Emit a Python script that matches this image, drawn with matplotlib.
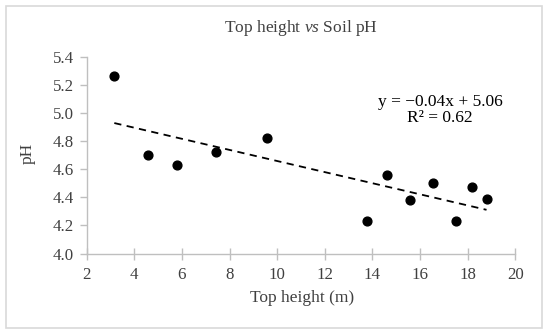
import numpy as np
import matplotlib
matplotlib.use("Agg")
import matplotlib.pyplot as plt
from matplotlib.patches import Rectangle

plt.rcParams['font.family'] = ['Liberation Serif', 'DejaVu Serif']
plt.rcParams['mathtext.fontset'] = 'custom'
plt.rcParams['mathtext.rm'] = 'Liberation Serif'
plt.rcParams['mathtext.it'] = 'Liberation Serif:italic'

# data
top_height = [3.16, 4.58, 5.79, 7.44, 9.58, 13.78, 14.63, 15.56, 16.55, 17.49, 18.17, 18.79]
soil_ph = [5.26, 4.70, 4.63, 4.72, 4.82, 4.23, 4.56, 4.38, 4.50, 4.23, 4.47, 4.39]
x_ticks = [2, 4, 6, 8, 10, 12, 14, 16, 18, 20]
y_ticks = [4.0, 4.2, 4.4, 4.6, 4.8, 5.0, 5.2, 5.4]

x = np.array(top_height)
y = np.array(soil_ph)

# linear trend line
slope, intercept = np.polyfit(x, y, 1)
xs = np.array([x.min(), x.max()])

fig = plt.figure(figsize=(5.5, 3.34), dpi=100)
ax = fig.add_axes([0.1576, 0.241, 0.7794, 0.589])

# light grey frame round the whole chart
fig.patches.append(Rectangle((5.5 / 550, 1 - 328 / 334), 536 / 550, 322 / 334,
                             transform=fig.transFigure, fill=False,
                             edgecolor='#d9d9d9', linewidth=1.2))

ax.scatter(x, y, s=40, color='black', zorder=3)
ax.plot(xs, slope * xs + intercept, color='black', linestyle=(0, (4, 3)),
        linewidth=1.3)

ax.set_xlim(2, 20)
ax.set_ylim(4.0, 5.4)
ax.set_xticks(x_ticks)
ax.set_yticks(y_ticks)
ax.set_yticklabels(['%.1f' % v for v in y_ticks])

for side in ['top', 'right']:
    ax.spines[side].set_visible(False)
for side in ['left', 'bottom']:
    ax.spines[side].set_color('#bfbfbf')
    ax.spines[side].set_linewidth(1.0)
ax.tick_params(axis='both', colors='#bfbfbf', labelcolor='#404040',
               labelsize=12.2, width=1.0)
ax.tick_params(axis='x', direction='inout', length=9, pad=5)
ax.tick_params(axis='y', direction='out', length=5, pad=4)

ax.set_xlabel('Top height (m)', fontsize=12.5, color='#404040', va='center')
ax.xaxis.set_label_coords(0.502, -0.226)
ax.set_ylabel('pH', fontsize=12.5, color='#404040', va='center')
ax.yaxis.set_label_coords(-0.137, 0.51)
ax.text(0.5, 1.146, r'Top height $\it{vs}$ Soil pH', transform=ax.transAxes,
        ha='center', va='center', fontsize=12.5, color='#404040')

eq = 'y = \u22120.04x + 5.06\nR\u00b2 = 0.62'
ax.text(0.824, 0.727, eq, transform=ax.transAxes, ha='center', va='center',
        fontsize=12.5, color='#000000', linespacing=1.0)

fig.savefig('out.png', dpi=100)
